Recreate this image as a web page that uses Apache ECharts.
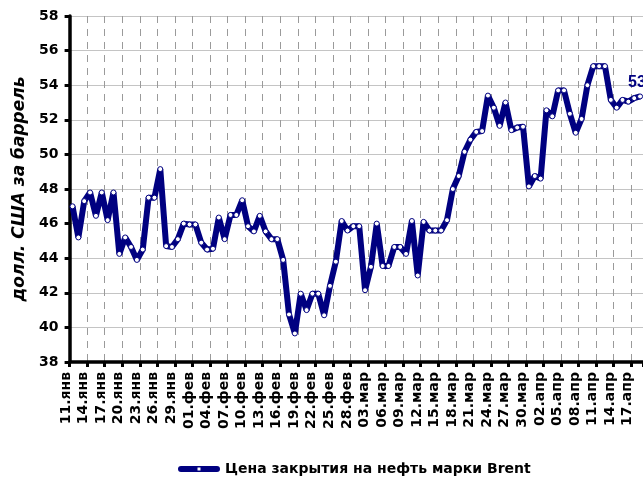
<!DOCTYPE html>
<html>
<head>
<meta charset="utf-8">
<script src="https://cdn.jsdelivr.net/npm/echarts@6/dist/echarts.min.js"></script>
<style>
html,body{margin:0;padding:0;background:#fff;}
#chart{width:643px;height:479px;}
</style>
</head>
<body>
<div id="chart"></div>
<script>
// Month name, first day, last day shown on the axis
var monthSpans = [['янв', 11, 31], ['фев', 1, 28], ['мар', 1, 31], ['апр', 1, 18]];

// Closing price, one value per calendar day from 11.янв to 18.апр
var closePrices = [
  47.0, 45.2, 47.3, 47.8, 46.45, 47.8, 46.2, 47.8, 44.25, 45.2,
  44.65, 43.9, 44.5, 47.5, 47.5, 49.15, 44.7, 44.65, 45.1, 46.0,
  45.95, 45.95, 44.9, 44.5, 44.55, 46.35, 45.1, 46.5, 46.5, 47.35,
  45.85, 45.55, 46.45, 45.55, 45.1, 45.1, 43.9, 40.75, 39.65, 41.95,
  41.0, 41.95, 41.95, 40.7, 42.4, 43.8, 46.15, 45.6, 45.85, 45.85,
  42.15, 43.5, 46.0, 43.55, 43.55, 44.65, 44.65, 44.25, 46.15, 43.0,
  46.1, 45.6, 45.6, 45.6, 46.2, 48.0, 48.75, 50.15, 50.85, 51.3,
  51.35, 53.4, 52.7, 51.65, 53.0, 51.4, 51.55, 51.6, 48.15, 48.75,
  48.6, 52.55, 52.2, 53.7, 53.7, 52.35, 51.25, 52.05, 54.0, 55.1,
  55.1, 55.1, 53.15, 52.7, 53.15, 53.05, 53.25, 53.35
];

var seriesName = 'Цена закрытия на нефть марки Brent';
var yAxisTitle = 'долл. США за баррель';
var yMin = 38, yMax = 58, yStep = 2;

var categories = [];
monthSpans.forEach(function (m) {
  for (var d = m[1]; d <= m[2]; d++) {
    categories.push((d < 10 ? '0' + d : '' + d) + '.' + m[0]);
  }
});

var lastIndex = closePrices.length - 1;
var FONT = 'DejaVu Sans';
var NAVY = '#000080';

var chart = echarts.init(document.getElementById('chart'), null, {renderer: 'canvas'});
chart.setOption({
  animation: false,
  backgroundColor: '#ffffff',
  grid: {left: 69.6, right: -4.8, top: 16, bottom: 117, containLabel: false},
  legend: {
    data: [seriesName],
    left: 173,
    top: 457,
    itemWidth: 42,
    itemHeight: 6,
    icon: 'path://M3,0 H39 A3,3 0 0 1 39,6 H3 A3,3 0 0 1 3,0 Z M19.5,1.6 V4.4 H22.5 V1.6 Z',
    itemStyle: {color: NAVY, borderWidth: 0},
    textStyle: {fontFamily: FONT, fontWeight: 'bold', fontSize: 14, color: '#000'}
  },
  xAxis: {
    type: 'category',
    data: categories,
    boundaryGap: true,
    axisLine: {show: true, lineStyle: {color: '#000', width: 3.5}},
    axisTick: {show: true, interval: 2, length: 5, lineStyle: {color: '#000', width: 3}},
    axisLabel: {
      interval: 2,
      rotate: 90,
      margin: 10,
      verticalAlign: 'bottom',
      fontFamily: FONT,
      fontWeight: 'bold',
      fontSize: 14,
      lineHeight: 13,
      color: '#000'
    },
    splitLine: {show: true, interval: 2, lineStyle: {color: '#9a9a9a', width: 1, type: [7, 6]}}
  },
  yAxis: {
    type: 'value',
    min: yMin,
    max: yMax,
    interval: yStep,
    name: yAxisTitle,
    nameLocation: 'middle',
    nameRotate: 90,
    nameGap: 39,
    nameTextStyle: {fontFamily: FONT, fontWeight: 'bold', fontStyle: 'italic', fontSize: 17, color: '#000'},
    axisLine: {show: true, lineStyle: {color: '#000', width: 3.5}},
    axisTick: {show: true, length: 5, lineStyle: {color: '#000', width: 3}},
    axisLabel: {margin: 11, fontFamily: FONT, fontWeight: 'bold', fontSize: 14, color: '#000'},
    splitLine: {show: true, lineStyle: {color: '#c4c4c4', width: 1}}
  },
  series: [{
    name: seriesName,
    type: 'line',
    data: closePrices,
    symbol: 'circle',
    symbolSize: 5,
    showAllSymbol: true,
    lineStyle: {color: NAVY, width: 6},
    itemStyle: {color: '#ffffff', borderColor: NAVY, borderWidth: 1},
    label: {
      show: true,
      position: 'top',
      distance: 7,
      offset: [8, 4],
      fontFamily: 'Liberation Sans',
      fontWeight: 'bold',
      fontSize: 16,
      color: NAVY,
      formatter: function (p) {
        return p.dataIndex === lastIndex ? p.value.toFixed(2).replace('.', ',') : '';
      }
    },
    clip: false
  }]
});
</script>
</body>
</html>
